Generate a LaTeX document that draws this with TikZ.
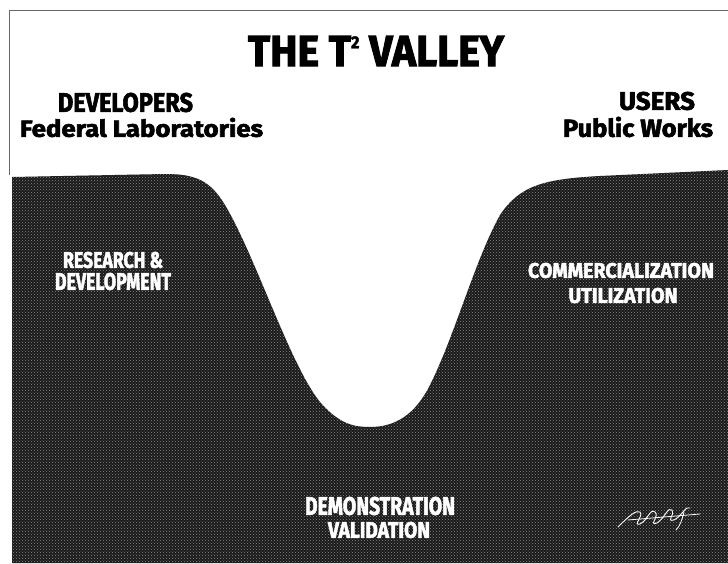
\documentclass[tikz,border=0pt]{standalone}
\usepackage{fontspec}
\setmainfont{Fira Sans}
\newfontfamily\heavy{Fira Sans}[FakeBold=2.4]
\usetikzlibrary{patterns}
% text fitted to a given width and height
\newcommand\fit[3]{\resizebox{#1pt}{#2pt}{\heavy\bfseries #3}}
\begin{document}
\begin{tikzpicture}[x=1pt,y=-1pt,
  label/.style={inner sep=0pt},
  ground/.style={inner sep=0pt, text=white},
  frame/.style={draw=black!60, line width=0.8pt},
  earth/.style={fill=black!90},
  speckle/.style={pattern=crosshatch dots, pattern color=black!45}]
\useasboundingbox (0,0) rectangle (728,563);
% thin frame around the page
\draw[frame] (9,175) -- (9,10) -- (728,10);
% valley profile
\def\valley{(12,563) -- (12,177) -- (165,174)
  .. controls (195,174) and (210,180) .. (225,205)
  .. controls (255,255) and (290,365) .. (320,402)
  .. controls (340,425) and (355,427) .. (370,427)
  .. controls (395,427) and (415,415) .. (430,385)
  .. controls (455,335) and (475,260) .. (500,215)
  .. controls (520,185) and (545,179) .. (600,176)
  -- (728,170) -- (728,563) -- cycle}
\path[earth] \valley;
\path[speckle] \valley;
% title and headings
\node[label] (title) at (376,51)
  {\fit{256}{30}{THE T{\fontsize{4}{4}\selectfont\raisebox{4.1pt}{2}} VALLEY}};
\node[label] (dev) at (125.5,102.5) {\fit{135}{19}{DEVELOPERS}};
\node[label] (fed) at (141.5,127.5) {\fit{243}{19}{Federal Laboratories}};
\node[label] (users) at (657,101) {\fit{76}{18}{USERS}};
\node[label] (pub) at (638,127) {\fit{150}{20}{Public Works}};
% labels on the ground
\node[ground] (rd1) at (113,260) {\fit{100}{16}{RESEARCH \&}};
\node[ground] (rd2) at (113,281.5) {\fit{116}{17}{DEVELOPMENT}};
\node[ground] (cu1) at (621,270.5) {\fit{186}{15}{COMMERCIALIZATION}};
\node[ground] (cu2) at (623,295.5) {\fit{109}{15}{UTILIZATION}};
\node[ground] (dv1) at (380,506) {\fit{150}{18}{DEMONSTRATION}};
\node[ground] (dv2) at (379,530) {\fit{102}{16}{VALIDATION}};
% signature
\draw[white, line width=0.9pt, line cap=round]
  (618,527) .. controls (630,515) and (636,510) .. (640,512)
  .. controls (644,516) and (632,526) .. (640,524)
  .. controls (648,520) and (650,508) .. (655,512)
  .. controls (660,516) and (648,526) .. (657,523)
  .. controls (665,518) and (668,506) .. (672,510)
  .. controls (676,514) and (665,522) .. (674,520)
  .. controls (682,516) and (686,505) .. (690,508);
\draw[white, line width=0.8pt, line cap=round]
  (628,520) -- (700,514)
  (684,512) .. controls (682,520) and (680,526) .. (676,530);
\end{tikzpicture}
\end{document}
